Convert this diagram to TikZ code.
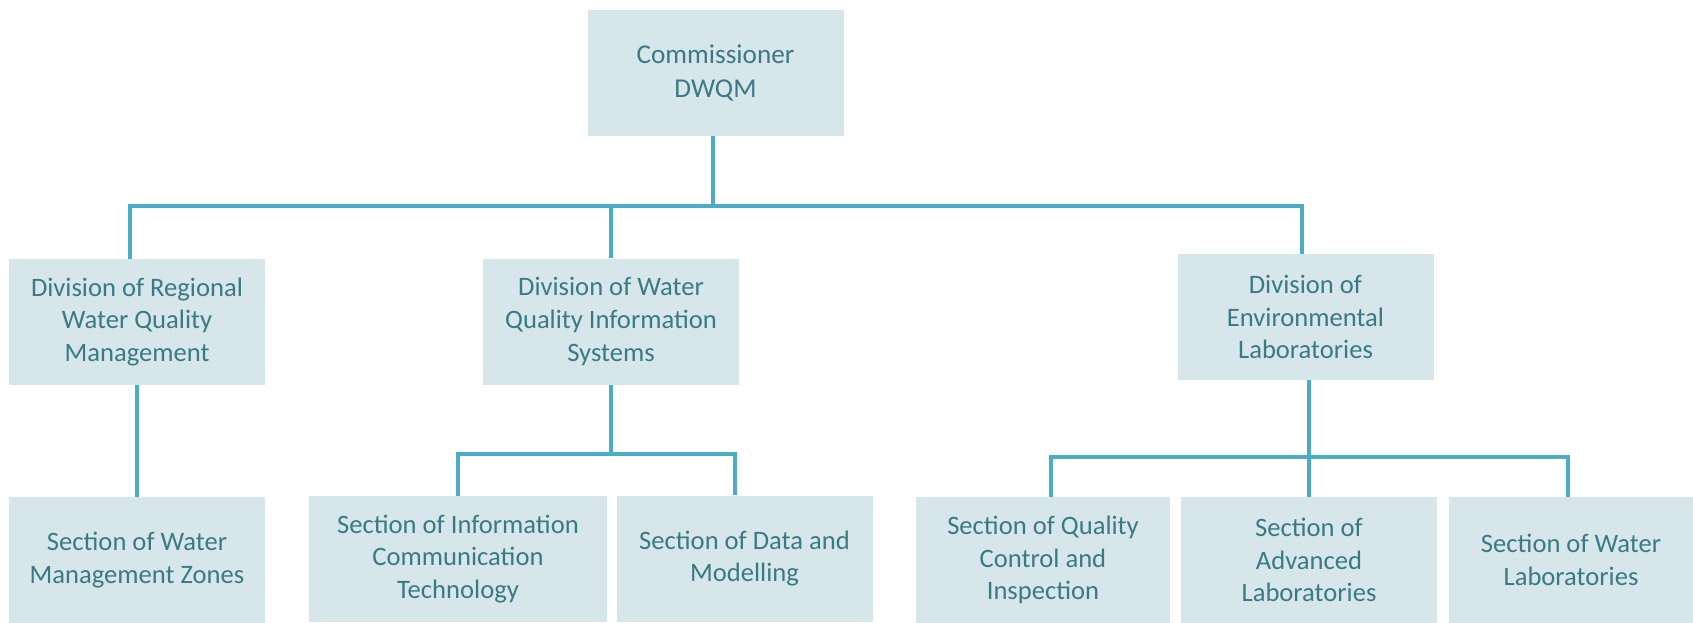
\documentclass[tikz,border=0pt]{standalone}
\usepackage{fontspec}
\setmainfont{Carlito}
\usepackage{tikz}
\definecolor{boxfill}{HTML}{D6E6EB}
\definecolor{boxtext}{HTML}{3B7A84}
\definecolor{linkblue}{HTML}{4BACC6}
\tikzset{
  unit box/.style={fill=boxfill, text=boxtext, align=center, inner sep=0pt,
    minimum width=128pt, minimum height=63pt,
    font=\fontsize{13.3}{16.3}\selectfont},
  link/.style={draw=linkblue, line width=2pt}
}

\begin{document}
\begin{tikzpicture}[x=0.5pt, y=-0.5pt]
\useasboundingbox (0,0) rectangle (1693,622);
% top
\path (715.5,73) node (comm) [unit box, font=\fontsize{13.6}{17.4}\selectfont] {Commissioner\\DWQM};
% divisions
\path (137,322) node (div1) [unit box] {Division of Regional\\Water Quality\\Management};
\path (611,321.5) node (div2) [unit box] {Division of Water\\Quality Information\\Systems};
\path (1305.5,317) node (div3) [unit box] {Division of\\Environmental\\Laboratories};
% sections
\path (137,560) node (wmz) [unit box] {Section of Water\\Management Zones};
\path (458,559) node (ict) [unit box, minimum width=149pt] {Section of Information\\Communication\\Technology};
\path (744.5,558.5) node (data) [unit box] {Section of Data and\\Modelling};
\path (1043,560) node (qci) [unit box, minimum width=127pt] {Section of Quality\\Control and\\Inspection};
\path (1309,560) node (adv) [unit box] {Section of\\Advanced\\Laboratories};
\path (1571,560) node (wlab) [unit box, minimum width=122pt] {Section of Water\\Laboratories};
% bars
\coordinate (topbar) at (0,205.5);
\coordinate (midbar) at (0,454);
\coordinate (labbar) at (0,456.5);
\draw[link] ([xshift=-1.5pt]comm.south) -- ([xshift=-1.5pt]comm.south |- topbar);
\draw[link] ([xshift=-3.5pt]div1.north) |- ([xshift=-2pt]div3.north |- topbar) -- ([xshift=-2pt]div3.north);
\draw[link] (div2.north) -- (div2.north |- topbar);
\draw[link] (div1.south) -- (wmz.north);
\draw[link] (div2.south) -- (div2.south |- midbar);
\draw[link] (ict.north) |- ([xshift=-5pt]data.north |- midbar) -- ([xshift=-5pt]data.north);
\draw[link] ([xshift=4pt]qci.north) |- ([xshift=-1.5pt]wlab.north |- labbar) -- ([xshift=-1.5pt]wlab.north);
\draw[link] (adv.north |- div3.south) -- (adv.north);
\end{tikzpicture}
\end{document}
